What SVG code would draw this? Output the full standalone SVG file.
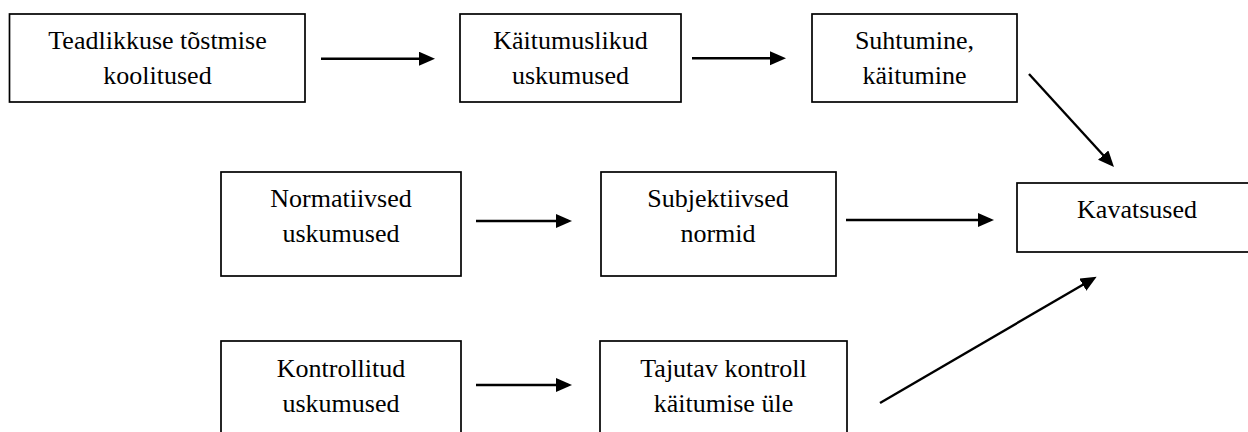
<svg xmlns="http://www.w3.org/2000/svg" width="1248" height="432" viewBox="0 0 1248 432">
<style>
.box{fill:#fff;stroke:#000;stroke-width:1.7}
.t{font-family:"Liberation Serif","Times New Roman",serif;font-size:26px;fill:#000;text-anchor:middle}
.c{stroke:#000;stroke-width:2.4;fill:none}
</style>
<defs>
<marker id="ah" markerUnits="userSpaceOnUse" markerWidth="18" markerHeight="16" refX="12" refY="7" orient="auto">
<path d="M0,0 L16,7 L0,14 z" fill="#000"/>
</marker>
</defs>
<rect width="1248" height="432" fill="#fff"/>
<g id="n1"><rect class="box" x="9.5" y="14" width="295.5" height="88"/>
<text class="t" x="157.5" y="49">Teadlikkuse tõstmise</text>
<text class="t" x="157.5" y="84">koolitused</text></g>
<g id="n2"><rect class="box" x="460" y="14" width="221" height="88"/>
<text class="t" x="570.5" y="49">Käitumuslikud</text>
<text class="t" x="570.5" y="84">uskumused</text></g>
<g id="n3"><rect class="box" x="812" y="14" width="205" height="88"/>
<text class="t" x="914.5" y="49">Suhtumine,</text>
<text class="t" x="914.5" y="84">käitumine</text></g>
<g id="n4"><rect class="box" x="1017" y="183" width="242" height="69"/>
<text class="t" x="1137" y="218">Kavatsused</text></g>
<g id="n5"><rect class="box" x="221" y="172" width="240" height="104"/>
<text class="t" x="341" y="207">Normatiivsed</text>
<text class="t" x="341" y="242">uskumused</text></g>
<g id="n6"><rect class="box" x="601" y="172" width="235" height="104"/>
<text class="t" x="718" y="207">Subjektiivsed</text>
<text class="t" x="718" y="242">normid</text></g>
<g id="n7"><rect class="box" x="221" y="341" width="240" height="110"/>
<text class="t" x="341" y="377">Kontrollitud</text>
<text class="t" x="341" y="412">uskumused</text></g>
<g id="n8"><rect class="box" x="600" y="341" width="247" height="110"/>
<text class="t" x="723.5" y="377">Tajutav kontroll</text>
<text class="t" x="723.5" y="412">käitumise üle</text></g>
<g id="connectors">
<line class="c" x1="321" y1="58.7" x2="431" y2="58.7" marker-end="url(#ah)"/>
<line class="c" x1="692" y1="58.3" x2="782" y2="58.3" marker-end="url(#ah)"/>
<line class="c" x1="1029" y1="74" x2="1111.3" y2="164" marker-end="url(#ah)"/>
<line class="c" x1="476" y1="221" x2="568" y2="221" marker-end="url(#ah)"/>
<line class="c" x1="846" y1="220" x2="990" y2="220" marker-end="url(#ah)"/>
<line class="c" x1="476" y1="385" x2="568" y2="385" marker-end="url(#ah)"/>
<line class="c" x1="880" y1="403" x2="1093.2" y2="278.7" marker-end="url(#ah)"/>
</g>
</svg>
